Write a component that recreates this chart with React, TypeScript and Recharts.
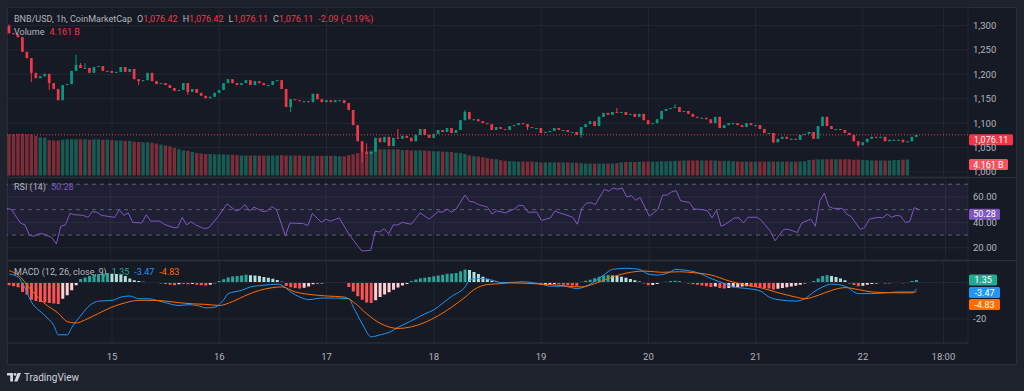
import React from 'react';
import { ComposedChart, Bar, Line, XAxis, YAxis, CartesianGrid, ReferenceLine, ReferenceArea, Cell } from 'recharts';

// BNB/USD 1h candles, 14 01:00 .. 22 13:00
const FIRST_OPEN = 1299;
const closes = [
  1284, 1282, 1276, 1246, 1233, 1203, 1192, 1196, 1201, 1182,
  1170, 1147, 1178, 1180, 1207, 1219, 1213, 1213, 1203, 1215,
  1217, 1207, 1207, 1203, 1205, 1215, 1205, 1211, 1190, 1186,
  1188, 1203, 1186, 1180, 1182, 1178, 1172, 1166, 1168, 1182,
  1164, 1170, 1162, 1156, 1151, 1154, 1162, 1168, 1182, 1190,
  1182, 1178, 1182, 1188, 1178, 1186, 1182, 1178, 1178, 1186,
  1188, 1170, 1133, 1149, 1147, 1145, 1145, 1143, 1160, 1149,
  1143, 1147, 1143, 1147, 1147, 1141, 1127, 1096, 1063, 1040,
  1037, 1041, 1070, 1061, 1072, 1053, 1070, 1068, 1074, 1070,
  1063, 1076, 1088, 1076, 1070, 1078, 1086, 1082, 1090, 1080,
  1086, 1106, 1123, 1108, 1108, 1104, 1100, 1098, 1086, 1092,
  1088, 1086, 1094, 1096, 1100, 1098, 1092, 1090, 1090, 1080,
  1082, 1084, 1090, 1086, 1086, 1082, 1082, 1076, 1092, 1098,
  1104, 1094, 1113, 1121, 1117, 1123, 1121, 1123, 1117, 1119,
  1113, 1119, 1106, 1098, 1100, 1108, 1125, 1129, 1131, 1133,
  1123, 1125, 1119, 1113, 1111, 1111, 1108, 1100, 1113, 1090,
  1096, 1100, 1100, 1096, 1092, 1100, 1096, 1096, 1088, 1080,
  1080, 1061, 1068, 1072, 1068, 1068, 1066, 1076, 1078, 1082,
  1068, 1094, 1113, 1094, 1088, 1088, 1086, 1080, 1076, 1063,
  1055, 1061, 1068, 1072, 1070, 1072, 1063, 1066, 1066, 1066,
  1061, 1063, 1072, 1076.11,
];

// [candle index, price] for the longer wicks
const wickHighs: [number, number][] = [
  [0, 1302], [15, 1240], [16, 1223], [17, 1223], [80, 1059], [87, 1088],
  [102, 1127], [136, 1131], [149, 1139],
];
const wickLows: [number, number][] = [
  [5, 1184], [9, 1168], [29, 1178], [40, 1158], [63, 1123], [79, 1020],
  [116, 1086], [128, 1070], [171, 1059], [190, 1051],
];

// volume, billions
const volumes = [
  10.7, 10.7, 10.8, 10.8, 10.7, 10.6, 10.3, 9.9, 9.8, 9.2,
  9.1, 9.1, 9.3, 9.4, 9.4, 9.4, 9.4, 9.4, 9.3, 9.4,
  9.4, 9.3, 9.3, 9.2, 9.1, 9.1, 9.0, 9.0, 8.8, 8.7,
  8.6, 8.6, 8.5, 8.3, 8.0, 7.8, 7.6, 7.2, 6.8, 6.5,
  6.4, 6.1, 5.8, 5.7, 5.6, 5.6, 5.5, 5.5, 5.5, 5.4,
  5.4, 5.3, 5.2, 5.2, 5.2, 5.2, 5.2, 5.2, 5.2, 5.2,
  5.2, 5.3, 5.2, 5.2, 5.2, 5.2, 5.1, 5.1, 5.1, 5.1,
  5.1, 5.1, 5.1, 5.1, 5.0, 5.0, 5.3, 5.5, 5.8, 6.0,
  6.3, 6.5, 6.6, 6.8, 6.8, 6.8, 6.8, 6.8, 6.6, 6.6,
  6.5, 6.5, 6.5, 6.5, 6.4, 6.3, 6.3, 6.2, 6.2, 6.1,
  5.9, 5.8, 5.6, 5.2, 5.0, 4.9, 4.7, 4.5, 4.3, 4.2,
  4.0, 3.8, 3.7, 3.7, 3.6, 3.6, 3.6, 3.6, 3.5, 3.4,
  3.4, 3.4, 3.4, 3.4, 3.4, 3.4, 3.3, 3.3, 3.2, 3.1,
  3.1, 3.1, 3.1, 3.1, 3.1, 3.1, 3.2, 3.4, 3.5, 3.5,
  3.5, 3.6, 3.6, 3.6, 3.6, 3.6, 3.7, 3.7, 3.7, 3.8,
  3.8, 3.9, 3.9, 3.9, 3.9, 3.9, 3.9, 3.9, 3.9, 3.8,
  3.8, 3.8, 3.7, 3.6, 3.6, 3.6, 3.6, 3.6, 3.6, 3.6,
  3.6, 3.6, 3.6, 3.6, 3.6, 3.6, 3.6, 3.6, 3.7, 4.0,
  4.1, 4.2, 4.2, 4.2, 4.2, 4.2, 4.2, 4.2, 4.2, 4.1,
  4.1, 4.0, 4.0, 3.9, 3.9, 3.9, 3.9, 3.9, 4.0, 4.0,
  4.1, 4.161,
];

// [candle index, value]
const rsiPoints: [number, number][] = [
  [0, 51], [1, 50], [3, 39.5], [4, 38], [5, 30], [6, 29], [7, 31], [8, 31], [10, 28], [11, 23],
  [12, 37], [13, 38], [14, 47], [15, 46], [17, 45.5], [18, 44], [19, 48.5], [20, 48], [21, 45.5], [23, 44.5],
  [24, 44], [25, 50], [26, 45.5], [27, 47.5], [28, 40], [30, 39.5], [31, 46], [32, 41], [34, 41], [35, 38.5],
  [37, 36], [38, 36], [39, 44], [40, 38], [41, 40.5], [42, 38], [44, 35], [45, 36], [47, 44.5], [49, 54.5],
  [51, 49], [52, 50.5], [53, 54], [54, 49], [55, 52], [57, 48.5], [58, 49], [59, 52.5], [60, 50], [62, 29.5],
  [63, 39.5], [66, 39], [67, 37.5], [68, 47], [70, 40], [71, 42.5], [72, 41], [74, 43.5], [76, 31.5], [78, 22],
  [79, 17.5], [81, 18], [82, 33], [83, 32.5], [84, 35], [85, 31], [86, 38], [87, 38], [88, 40], [90, 38.5],
  [92, 47.5], [94, 42.5], [96, 48.5], [97, 48], [98, 50.5], [99, 48], [100, 50.5], [102, 61.5], [103, 56.5], [104, 56],
  [105, 54], [107, 52], [108, 46.5], [109, 49], [111, 47.5], [113, 50.5], [114, 53.5], [115, 53], [116, 48], [118, 48],
  [119, 41.5], [121, 43.5], [122, 49], [123, 47.5], [124, 46.5], [126, 44], [127, 38.5], [128, 51], [129, 55], [130, 55.5],
  [131, 54], [133, 66], [134, 64.5], [135, 67], [136, 66], [137, 67], [138, 60], [139, 61], [140, 57.5], [141, 59.5],
  [143, 45], [144, 47.5], [145, 50.5], [146, 61.5], [147, 61.5], [148, 64], [149, 65], [150, 57], [152, 55.5], [153, 50.5],
  [155, 50], [156, 49], [157, 43.5], [158, 49.5], [159, 37], [160, 38.5], [162, 43.5], [163, 43.5], [164, 39.5], [165, 44],
  [167, 44], [168, 41.5], [170, 33], [171, 25.5], [173, 34.5], [174, 34.5], [176, 32], [177, 39.5], [179, 42.5], [180, 37],
  [181, 57], [182, 63], [183, 52.5], [184, 51], [186, 51], [187, 46.5], [188, 44.5], [190, 34.5], [191, 36], [192, 42.5],
  [194, 44], [195, 43.5], [196, 46.5], [197, 44], [198, 45.5], [199, 45], [200, 40], [201, 40.5], [202, 51.5], [203, 50.28],
];

const macdPoints: [number, number][] = [
  [0, 4.6], [2, 3], [3, -0.6], [5, -10.8], [8, -18.2], [10, -23.7], [11, -28.7], [13, -28.7], [14, -24.6], [16, -18.2],
  [18, -12.6], [20, -10.2], [23, -9.8], [25, -8], [27, -7.4], [29, -8.9], [31, -8.9], [33, -9.8], [35, -11.1], [38, -12.6],
  [40, -12.2], [42, -12.6], [44, -13.9], [46, -13.5], [48, -9.4], [49, -6.1], [52, -4.3], [54, -2.4], [57, -1.5], [60, -0.9],
  [61, -1.5], [63, -5.2], [65, -8], [67, -9.4], [70, -8.5], [72, -8.5], [76, -8.9], [77, -13.5], [79, -22.8], [81, -29.8],
  [83, -28.7], [85, -27.4], [87, -24.6], [90, -21], [93, -17.2], [95, -15], [97, -11.3], [99, -7.6], [102, -2.4], [103, 1.3],
  [105, 2.2], [108, 1.3], [110, 0], [112, 0], [115, 0.4], [119, -0.9], [121, -2], [124, -2], [127, -3.3], [130, -0.9],
  [133, 4.1], [135, 7.2], [138, 7.8], [141, 7.2], [143, 4.6], [145, 4.1], [148, 5.9], [149, 7.2], [151, 6.8], [154, 5.4],
  [157, 2.2], [160, -0.6], [162, -2.4], [165, -3.3], [168, -4.6], [170, -8], [172, -9.4], [176, -10.2], [178, -8.9], [180, -5.2],
  [182, -2.4], [184, -0.9], [187, -2], [190, -6.1], [193, -6.1], [196, -5.7], [199, -5.2], [202, -5.2], [203, -3.47],
];

const signalPoints: [number, number][] = [
  [0, 6.5], [2, 4.1], [5, -4.3], [8, -11.7], [11, -16.9], [13, -21.5], [15, -22.2], [17, -20.5], [20, -16.9], [23, -13.5],
  [26, -11.1], [29, -9.8], [32, -9.8], [35, -10.2], [38, -11.1], [41, -11.7], [44, -12], [47, -12.6], [50, -10.4], [53, -7],
  [56, -4.3], [59, -2.8], [61, -2.4], [64, -5.2], [67, -6.5], [71, -7.4], [75, -8], [77, -10.7], [80, -17.2], [83, -22.4],
  [87, -25.2], [90, -24.3], [93, -21.9], [96, -18.2], [99, -13.5], [102, -8], [104, -3.9], [107, -1.1], [110, -0.6], [112, -0.2],
  [117, -0.6], [121, -1.1], [125, -2], [128, -2.4], [131, -0.6], [135, 3.1], [139, 5.6], [142, 6.3], [146, 5.6], [150, 5.9],
  [153, 5.4], [157, 4.1], [161, 0.9], [165, -1.5], [168, -2.8], [172, -5.6], [176, -8], [178, -8.9], [181, -7], [184, -4.3],
  [187, -2.8], [190, -3.9], [193, -5.2], [197, -5.6], [202, -5.7], [203, -4.83],
];

const histogram = [
  -1.5, -2.0, -2.6, -5.2, -6.7, -9.4, -10.2, -10.7, -11.0, -11.3,
  -11.5, -11.8, -8.9, -7.0, -4.3, -1.5, 1.9, 2.8, 3.5, 4.1,
  4.6, 5.0, 5.2, 4.8, 4.6, 4.4, 3.5, 2.2, 1.3, 0.8,
  0.4, 0.3, 0.2, -0.2, -0.5, -0.8, -1.2, -1.5, -1.0, -0.6,
  -1.0, -0.8, -1.2, -1.5, -1.6, -1.2, -0.4, 0.8, 1.8, 2.8,
  3.3, 3.6, 3.9, 4.2, 4.0, 3.8, 3.5, 3.0, 2.6, 2.0,
  1.4, 0.4, -1.8, -2.6, -3.0, -3.3, -2.9, -2.2, -1.0, -0.6,
  -0.5, -0.3, -0.2, -0.2, -0.1, -0.3, -2.5, -5.0, -7.5, -9.5,
  -11.0, -11.3, -9.8, -8.0, -6.6, -5.4, -4.0, -2.8, -1.6, -0.8,
  0.8, 1.6, 2.3, 2.6, 3.0, 3.4, 3.8, 4.2, 4.8, 5.0,
  5.2, 6.2, 7.2, 6.8, 5.8, 4.6, 3.2, 2.0, 1.0, 0.6,
  0.3, 0.2, 0.1, 0.1, 0.3, 0.2, -0.3, -0.5, -0.8, -1.4,
  -1.2, -1.0, -0.8, -1.0, -1.2, -1.4, -1.6, -1.8, 0.4, 0.9,
  1.5, 2.4, 3.2, 3.8, 4.1, 3.9, 3.6, 3.2, 2.6, 1.9,
  1.2, 0.5, -0.6, -1.5, -1.4, -0.8, -0.3, 0.4, 0.8, 1.0,
  0.6, 0.2, -0.6, -1.0, -1.3, -1.6, -2.0, -2.4, -2.2, -3.0,
  -3.3, -3.0, -2.6, -2.4, -2.2, -2.0, -2.2, -2.5, -2.8, -3.0,
  -3.3, -3.8, -3.4, -3.0, -2.6, -2.2, -1.8, -1.2, -0.6, 0.2,
  0.8, 2.2, 3.6, 4.0, 3.6, 3.0, 2.2, 1.2, -0.5, -1.4,
  -2.0, -1.8, -1.3, -0.8, -0.5, -0.3, -0.5, -0.4, -0.3, -0.2,
  -0.4, 0.2, 0.8, 1.35,
];

const dayTicks = [23, 47, 71, 95, 119, 143, 167, 191, 209];
const dayLabels = ['15', '16', '17', '18', '19', '20', '21', '22', '18:00'];
const priceTicks = [1000, 1050, 1100, 1150, 1200, 1250, 1300];
const rsiTicks = [20, 40, 60];
const macdTicks = [-20];
const SLOTS = 215; // hourly slots incl. empty space right of last candle

const UP = '#089981';
const DOWN = '#f23645';
const TEXT = '#b2b5be';
const GRID = '#232734';
const FONT = 'Roboto, "Noto Sans", sans-serif';

const hiMap = new Map(wickHighs);
const loMap = new Map(wickLows);

const rows: any[] = Array.from({ length: SLOTS }, (_, t) => {
  const row: any = { t };
  if (t < closes.length) {
    const open = t === 0 ? FIRST_OPEN : closes[t - 1];
    const close = closes[t];
    row.open = open;
    row.close = close;
    row.up = close >= open;
    row.range = [Math.min(open, close, loMap.get(t) ?? Infinity), Math.max(open, close, hiMap.get(t) ?? -Infinity)];
    row.vol = volumes[t];
    row.hist = histogram[t];
    const prev = t === 0 ? histogram[0] : histogram[t - 1];
    const v = histogram[t];
    row.histColor = v >= 0 ? (v >= prev ? '#26a69a' : '#b2dfdb') : (v <= prev ? '#ff5252' : '#ffcdd2');
  }
  return row;
});
rsiPoints.forEach(([t, v]) => { rows[t].rsi = v; });
macdPoints.forEach(([t, v]) => { rows[t].macd = v; });
signalPoints.forEach(([t, v]) => { rows[t].signal = v; });

const Candle = (props: any) => {
  const { x, y, width, height, payload } = props;
  if (!payload || !payload.range) return null;
  const [low, high] = payload.range;
  const top = Math.min(y, y + height);
  const h = Math.abs(height);
  const k = high > low ? h / (high - low) : 0;
  const bodyTop = top + (high - Math.max(payload.open, payload.close)) * k;
  const bodyH = Math.max(1, Math.abs(payload.close - payload.open) * k);
  const color = payload.up ? UP : DOWN;
  const cx = x + width / 2;
  const bw = Math.max(1, width - 1.3);
  return (
    <g>
      <line x1={cx} x2={cx} y1={top} y2={top + Math.max(h, 1)} stroke={color} strokeWidth={1} />
      <rect x={cx - bw / 2} y={bodyTop} width={bw} height={bodyH} fill={color} />
    </g>
  );
};

const VolBar = (props: any) => {
  const { x, y, width, height, payload } = props;
  if (!payload || payload.vol == null) return null;
  return <rect x={x + 0.3} y={y} width={width - 0.6} height={height} fill={payload.up ? '#175c53' : '#7d2c38'} />;
};

const Tag = ({ viewBox, text, bg, w, offset = 0 }: any) => {
  if (!viewBox) return null;
  const x = viewBox.x + viewBox.width + 1;
  const y = viewBox.y + offset;
  return (
    <g>
      <rect x={x} y={y - 5.5} width={w} height={11} rx={1.5} fill={bg} />
      <text x={x + w / 2} y={y} dy="0.35em" textAnchor="middle" fontSize={9} fill="#ffffff" fontFamily={FONT}>{text}</text>
    </g>
  );
};

const MacdTags = ({ viewBox }: any) => {
  if (!viewBox) return null;
  return (
    <g>
      <Tag viewBox={viewBox} text="1.35" bg="#22ab94" w={28} />
      <Tag viewBox={viewBox} text="-3.47" bg="#2196f3" w={31} offset={12.5} />
      <Tag viewBox={viewBox} text="-4.83" bg="#ff6d00" w={31} offset={24.5} />
    </g>
  );
};

const axisTick = { fill: TEXT, fontSize: 9.5, fontFamily: FONT };
const MARGIN = { top: 0, right: 8, bottom: 0, left: 7 };
const fmtPrice = (v: number) => v.toLocaleString('en-US');
const legendStyle: React.CSSProperties = { position: 'absolute', left: 14, fontSize: 9, color: TEXT, whiteSpace: 'nowrap', lineHeight: '12px' };

export default function App() {
  return (
    <div style={{ position: 'absolute', left: 0, top: 0, width: 1024, height: 391, background: '#1e222d', overflow: 'hidden', fontFamily: FONT }}>
      <div style={{ position: 'absolute', left: 7, top: 7, width: 1008, height: 356, background: '#161a25', border: '1px solid #2a2e39' }} />

      {/* price + volume */}
      <div style={{ position: 'absolute', left: 0, top: 7 }}>
        <ComposedChart width={1024} height={170} data={rows} margin={MARGIN} barCategoryGap={0}>
          <CartesianGrid stroke={GRID} />
          <XAxis dataKey="t" type="category" ticks={dayTicks} interval={0} hide />
          <XAxis xAxisId="vx" dataKey="t" type="category" hide />
          <YAxis orientation="right" width={48} domain={[989.8, 1337.8]} ticks={priceTicks} tickFormatter={fmtPrice} interval={0}
            axisLine={false} tickLine={false} tick={axisTick} tickMargin={0} dx={-1} allowDataOverflow />
          <YAxis yAxisId="vol" hide domain={[-0.4, 43.8]} allowDataOverflow />
          <Bar xAxisId="vx" yAxisId="vol" dataKey="vol" shape={VolBar} isAnimationActive={false} />
          <Bar dataKey="range" shape={Candle} isAnimationActive={false} />
          <ReferenceLine y={1076.11} stroke={DOWN} strokeDasharray="1 2" strokeWidth={1}
            label={<Tag text="1,076.11" bg={DOWN} w={44} />} />
          <ReferenceLine xAxisId="vx" yAxisId="vol" y={4.161} stroke="none"
            label={<Tag text="4.161 B" bg="#f7525f" w={39} />} />
        </ComposedChart>
      </div>
      <div style={{ position: 'absolute', left: 7, top: 177, width: 1009, height: 1, background: '#2a2e39' }} />

      {/* RSI */}
      <div style={{ position: 'absolute', left: 0, top: 178 }}>
        <ComposedChart width={1024} height={82} data={rows} margin={MARGIN}>
          <CartesianGrid stroke={GRID} />
          <XAxis dataKey="t" type="category" ticks={dayTicks} interval={0} hide />
          <YAxis orientation="right" width={48} domain={[10.4, 74.9]} ticks={rsiTicks} tickFormatter={(v: number) => v.toFixed(2)} interval={0}
            axisLine={false} tickLine={false} tick={axisTick} tickMargin={0} dx={-1} allowDataOverflow />
          <ReferenceArea y1={30} y2={70} fill="#7e57c2" fillOpacity={0.1} stroke="none" />
          <ReferenceLine y={70} stroke="#5d606b" strokeDasharray="4 4" />
          <ReferenceLine y={50} stroke="#5d606b" strokeDasharray="4 4" />
          <ReferenceLine y={30} stroke="#5d606b" strokeDasharray="4 4" />
          <Line dataKey="rsi" type="linear" stroke="#7e57c2" strokeWidth={1} dot={false} connectNulls isAnimationActive={false} />
          <ReferenceLine y={50.28} stroke="none" label={<Tag text="50.28" bg="#7e57c2" w={31} />} />
        </ComposedChart>
      </div>
      <div style={{ position: 'absolute', left: 7, top: 260, width: 1009, height: 1, background: '#2a2e39' }} />

      {/* MACD + time axis */}
      <div style={{ position: 'absolute', left: 0, top: 261 }}>
        <ComposedChart width={1024} height={103} data={rows} margin={MARGIN} barCategoryGap="14%">
          <CartesianGrid stroke={GRID} />
          <XAxis dataKey="t" type="category" ticks={dayTicks} interval={0} height={21}
            tickFormatter={(v: number) => dayLabels[dayTicks.indexOf(v)]}
            axisLine={{ stroke: '#2a2e39' }} tickLine={false} tick={axisTick} tickMargin={4} />
          <YAxis orientation="right" width={48} domain={[-33.2, 11.8]} ticks={macdTicks} interval={0}
            axisLine={false} tickLine={false} tick={axisTick} tickMargin={0} dx={-1} allowDataOverflow />
          <ReferenceLine y={0} stroke={GRID} />
          <Bar dataKey="hist" isAnimationActive={false}>
            {rows.map((r) => <Cell key={r.t} fill={r.histColor || 'transparent'} />)}
          </Bar>
          <Line dataKey="macd" type="monotone" stroke="#2196f3" strokeWidth={1} dot={false} connectNulls isAnimationActive={false} />
          <Line dataKey="signal" type="monotone" stroke="#ff6d00" strokeWidth={1} dot={false} connectNulls isAnimationActive={false} />
          <ReferenceLine y={1.35} stroke="none" label={<MacdTags />} />
        </ComposedChart>
      </div>

      {/* legends */}
      <div style={{ ...legendStyle, top: 13 }}>
        <span>BNB/USD, 1h, CoinMarketCap</span>
        <span style={{ marginLeft: 5 }}>O<span style={{ color: DOWN }}>1,076.42</span></span>
        <span style={{ marginLeft: 5 }}>H<span style={{ color: DOWN }}>1,076.42</span></span>
        <span style={{ marginLeft: 5 }}>L<span style={{ color: DOWN }}>1,076.11</span></span>
        <span style={{ marginLeft: 5 }}>C<span style={{ color: DOWN }}>1,076.11</span></span>
        <span style={{ marginLeft: 5, color: DOWN }}>-2.09 (-0.19%)</span>
      </div>
      <div style={{ ...legendStyle, top: 26 }}>
        Volume<span style={{ color: DOWN, marginLeft: 5 }}>4.161 B</span>
      </div>
      <div style={{ ...legendStyle, top: 181 }}>
        RSI (14)<span style={{ color: '#7e57c2', marginLeft: 5 }}>50.28</span>
      </div>
      <div style={{ ...legendStyle, top: 266 }}>
        MACD (12, 26, close, 9)
        <span style={{ color: '#22ab94', marginLeft: 5 }}>1.35</span>
        <span style={{ color: '#2196f3', marginLeft: 5 }}>-3.47</span>
        <span style={{ color: '#ff6d00', marginLeft: 5 }}>-4.83</span>
      </div>

      {/* branding */}
      <div style={{ position: 'absolute', left: 7, top: 372, display: 'flex', alignItems: 'center', color: '#d1d4dc', fontSize: 10 }}>
        <svg width={14} height={9} viewBox="0 0 14 9">
          <path d="M0 0h6v8.5H3.2V2.6H0z" fill="#d1d4dc" />
          <circle cx={8} cy={1.4} r={1.4} fill="#d1d4dc" />
          <path d="M10.5 0H14l-3.6 8.5H7.2z" fill="#d1d4dc" />
        </svg>
        <span style={{ marginLeft: 3 }}>TradingView</span>
      </div>
    </div>
  );
}
